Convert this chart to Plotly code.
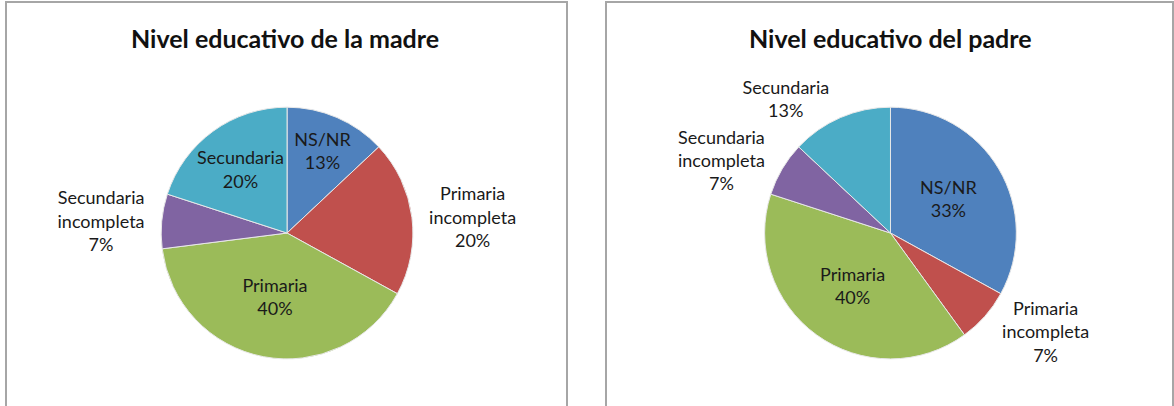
import plotly.graph_objects as go

categories = ["NS/NR", "Primaria incompleta", "Primaria", "Secundaria incompleta", "Secundaria"]
madre_pct = [13, 20, 40, 7, 20]
padre_pct = [33, 7, 40, 7, 13]
titles = ["Nivel educativo de la madre", "Nivel educativo del padre"]
colors = ["#4F81BD", "#C0504D", "#9BBB59", "#8064A2", "#4BACC6"]

madre_pos = ["inside", "outside", "inside", "outside", "inside"]
padre_pos = ["inside", "outside", "inside", "outside", "outside"]

FONT = "Lato"
W, H = 1174, 406
LBL = 18


def disp_label(lbl):
    return lbl.replace(" ", "<br>")


fig = go.Figure()
for vals, pos, dom in [
    (madre_pct, madre_pos, [0.137, 0.352]),
    (padre_pct, padre_pos, [0.651, 0.866]),
]:
    fig.add_trace(go.Pie(
        labels=categories,
        values=vals,
        text=[disp_label(c) for c in categories],
        texttemplate="%{text}<br>%{value}%",
        textposition=pos,
        insidetextorientation="horizontal",
        sort=False,
        direction="clockwise",
        rotation=0,
        marker=dict(colors=colors, line=dict(color="#E8E8E8", width=1)),
        textfont=dict(family=FONT, size=LBL, color="#1a1a1a"),
        insidetextfont=dict(family=FONT, size=LBL, color="#1a1a1a"),
        outsidetextfont=dict(family=FONT, size=LBL, color="#1a1a1a"),
        domain=dict(x=dom, y=[0.116, 0.736]),
        automargin=False,
        showlegend=False,
        hoverinfo="label+percent",
    ))

# titles
for t, xc in zip(titles, [285 / W, 890 / W]):
    fig.add_annotation(text="<b>%s</b>" % t, x=xc, y=1 - 38 / H, xref="paper", yref="paper",
                       showarrow=False, font=dict(family=FONT, size=25, color="#111111"),
                       xanchor="center", yanchor="middle")

# panel borders
for x0, x1 in [(6, 567), (606, 1173)]:
    fig.add_shape(type="path",
                  path="M %f,%f L %f,%f L %f,%f L %f,%f" % (
                      x0 / W, -0.05, x0 / W, 1 - 2 / H, x1 / W, 1 - 2 / H, x1 / W, -0.05),
                  xref="paper", yref="paper", line=dict(color="#A6A6A6", width=2))

fig.update_layout(
    width=W, height=H,
    margin=dict(l=0, r=0, t=0, b=0),
    paper_bgcolor="white",
    plot_bgcolor="white",
    uniformtext=dict(minsize=LBL, mode="show"),
)

fig.write_html("out.html", config={"displayModeBar": False},
               post_script="document.body.style.margin='0px';document.body.style.overflow='hidden';")
